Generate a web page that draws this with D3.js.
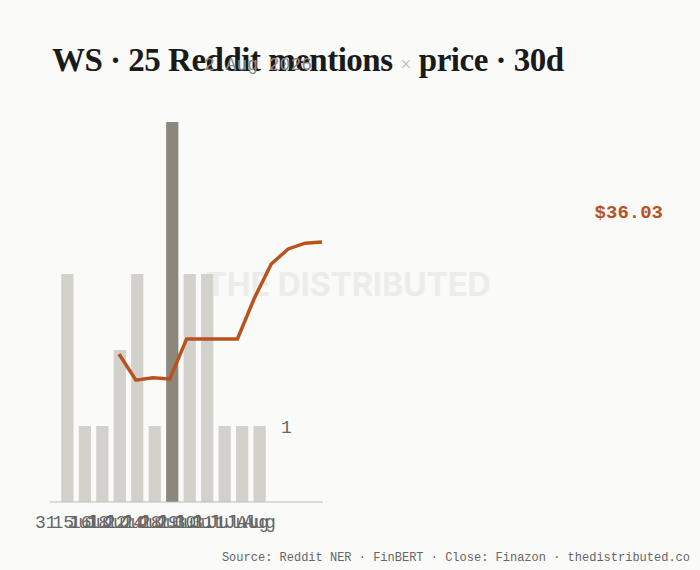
<!DOCTYPE html><html><head><meta charset="utf-8"><script src="https://cdn.jsdelivr.net/npm/d3@7"></script>
<style>body{margin:0;background:#fafaf8}</style></head><body><svg id="c" width="700" height="570"></svg><script>
const dates=["31 Jul","15 Jul","16 Jul","18 Jul","22 Jul","24 Jul","28 Jul","29 Jul","30 Jul","31 Jul","1 Aug","Aug"];
const mentions=[3,1,1,2,3,1,5,3,3,1,1,1];
const prices=[34.10,33.65,33.69,33.67,34.36,34.36,34.36,34.36,35.06,35.65,35.91,36.01,36.03];
const peak=6;
const svg=d3.select("#c");
svg.append("rect").attr("width",700).attr("height",570).attr("fill","#fafaf8");
const x=d3.scaleBand().domain(d3.range(mentions.length)).range([56,271]).padding(0.3);
const y=d3.scaleLinear().domain([0,5]).range([502,122]);
svg.append("text").attr("x",348).attr("y",296).attr("text-anchor","middle").attr("font-family","Inter").attr("font-weight",700).attr("font-size",32).attr("fill","#ececea").text("THE DISTRIBUTED");
svg.selectAll(".b").data(mentions).join("rect").attr("x",(d,i)=>x(i)).attr("width",x.bandwidth()).attr("y",d=>y(d)).attr("height",d=>502-y(d)).attr("fill",(d,i)=>i===peak?"#8c877d":"#d3d1cc");
svg.append("line").attr("x1",50).attr("x2",323).attr("y1",502).attr("y2",502).attr("stroke","#bbb");
svg.selectAll(".xl").data(dates).join("text").attr("x",(d,i)=>x(i)+x.bandwidth()/2).attr("y",528).attr("text-anchor","middle").attr("font-family","Liberation Mono").attr("font-size",18).attr("fill","#666").text(d=>d);
svg.append("text").attr("x",281).attr("y",433).attr("font-family","Liberation Mono").attr("font-size",18).attr("fill","#666").text("1");
const px=d3.scaleLinear().domain([0,prices.length-1]).range([119,322]);
const py=d3.scaleLinear().domain([36.03,34.10]).range([242,354]);
svg.append("path").datum(prices).attr("d",d3.line().x((d,i)=>px(i)).y(d=>py(d))).attr("fill","none").attr("stroke","#b8521f").attr("stroke-width",3.5);
svg.append("text").attr("x",663).attr("y",218).attr("text-anchor","end").attr("font-family","Liberation Mono").attr("font-weight",700).attr("font-size",19).attr("fill","#b8521f").text("$"+prices[prices.length-1].toFixed(2));
const t=svg.append("text").attr("x",52).attr("y",71).attr("font-family","Liberation Serif").attr("font-weight",700).attr("font-size",33).attr("fill","#1a1a1a").attr("letter-spacing",-0.5);
t.append("tspan").text("WS · 25 Reddit mentions ");
t.append("tspan").attr("fill","#bbb").attr("font-weight",400).attr("font-size",20).text("×");
t.append("tspan").text(" price · 30d");
svg.append("text").attr("x",258).attr("y",70).attr("text-anchor","middle").attr("font-family","Liberation Mono").attr("font-size",18).attr("fill","#888").text("2 Aug 2026");
svg.append("text").attr("x",690).attr("y",561).attr("text-anchor","end").attr("font-family","Liberation Mono").attr("font-size",12).attr("fill","#666").text("Source: Reddit NER · FinBERT · Close: Finazon · thedistributed.co");
</script></body></html>
